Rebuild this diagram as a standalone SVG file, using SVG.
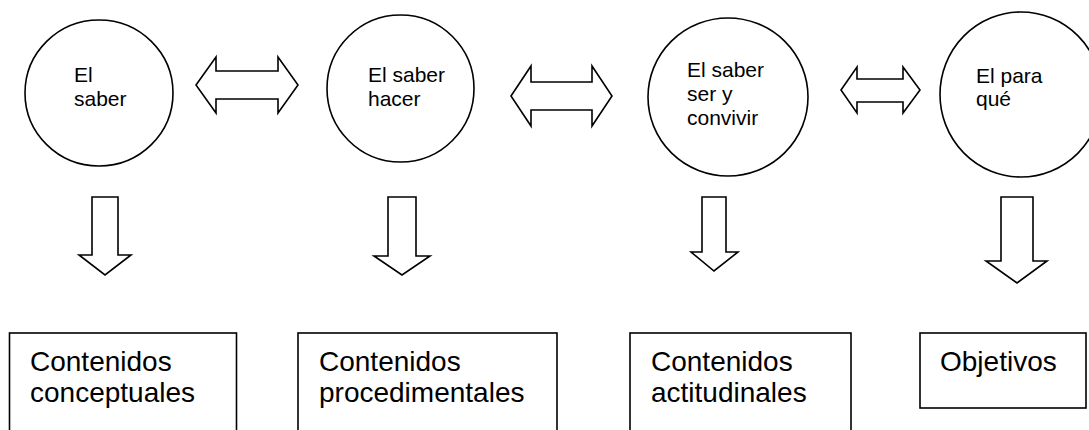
<svg xmlns="http://www.w3.org/2000/svg" width="1089" height="430" viewBox="0 0 1089 430">
<style>
.node-shape{fill:#ffffff;stroke:#000000;stroke-width:1.6}
.arrow{fill:#ffffff;stroke:#000000;stroke-width:1.6;stroke-linejoin:miter}
.t-small{font-family:"Liberation Sans",Arial,sans-serif;font-size:21px;fill:#000000}
.t-big{font-family:"Liberation Sans",Arial,sans-serif;font-size:28px;fill:#000000}
</style>
<rect x="0" y="0" width="1089" height="430" fill="#ffffff"/>
<g id="connectors">
  <polygon class="arrow" points="196,85 216,57 216,71 278,71 278,57 298,85 278,113 278,99 216,99 216,113"/>
  <polygon class="arrow" points="511,96 531,66 531,82 592,82 592,66 612,96 592,126 592,110 531,110 531,126"/>
  <polygon class="arrow" points="841,90 857,67 857,79 903,79 903,67 920,90 903,113 903,102 857,102 857,113"/>
  <polygon class="arrow" points="92,197 118,197 118,255 131,255 105,275 79,255 92,255"/>
  <polygon class="arrow" points="388,197 416,197 416,256 430,256 402,275 374,256 388,256"/>
  <polygon class="arrow" points="702,197 726,197 726,252 738,252 714,271 691,252 702,252"/>
  <polygon class="arrow" points="1001,197 1033,197 1033,261 1047,261 1017,283 986,261 1001,261"/>
</g>
<g id="node-saber">
  <ellipse class="node-shape" cx="99" cy="93" rx="74" ry="73"/>
  <text class="t-small" x="74" y="82">El</text>
  <text class="t-small" x="74" y="106">saber</text>
</g>
<g id="node-saber-hacer">
  <ellipse class="node-shape" cx="400.5" cy="88.5" rx="73.5" ry="73.5"/>
  <text class="t-small" x="368" y="82">El saber</text>
  <text class="t-small" x="368" y="106">hacer</text>
</g>
<g id="node-saber-ser">
  <ellipse class="node-shape" cx="728" cy="97" rx="80" ry="79"/>
  <text class="t-small" x="687" y="77">El saber</text>
  <text class="t-small" x="687" y="101">ser y</text>
  <text class="t-small" x="687" y="125">convivir</text>
</g>
<g id="node-para-que">
  <ellipse class="node-shape" cx="1021" cy="94.5" rx="81" ry="82.5"/>
  <text class="t-small" x="976" y="83">El para</text>
  <text class="t-small" x="976" y="106">qué</text>
</g>
<g id="node-conceptuales">
  <rect class="node-shape" x="9.5" y="333" width="227" height="110"/>
  <text class="t-big" x="30" y="371">Contenidos</text>
  <text class="t-big" x="30" y="402">conceptuales</text>
</g>
<g id="node-procedimentales">
  <rect class="node-shape" x="298" y="333" width="259" height="110"/>
  <text class="t-big" x="319" y="371">Contenidos</text>
  <text class="t-big" x="319" y="402">procedimentales</text>
</g>
<g id="node-actitudinales">
  <rect class="node-shape" x="630" y="333" width="221" height="110"/>
  <text class="t-big" x="651" y="371">Contenidos</text>
  <text class="t-big" x="651" y="402">actitudinales</text>
</g>
<g id="node-objetivos">
  <rect class="node-shape" x="920" y="333" width="166" height="75"/>
  <text class="t-big" x="940" y="371">Objetivos</text>
</g>
</svg>
